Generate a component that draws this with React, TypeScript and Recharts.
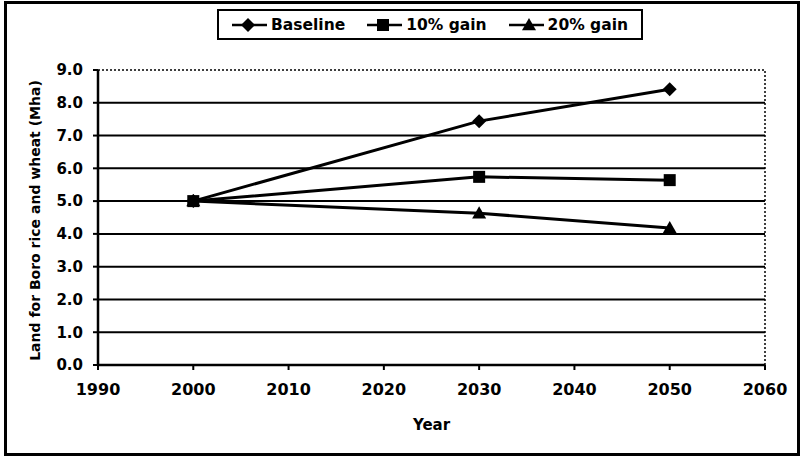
import React from "react";
import { LineChart, Line, XAxis, YAxis, ReferenceLine, Label } from "recharts";

const years = [2000, 2030, 2050];
const baseline = [5.0, 7.44, 8.41];
const gain10 = [5.0, 5.74, 5.64];
const gain20 = [5.0, 4.63, 4.18];
const xTicks = [1990, 2000, 2010, 2020, 2030, 2040, 2050, 2060];
const yTicks = [0, 1, 2, 3, 4, 5, 6, 7, 8, 9];
const gridValues = [1, 2, 3, 4, 5, 6, 7, 8];
const seriesNames = ["Baseline", "10% gain", "20% gain"];

const data = years.map((y, i) => ({ year: y, baseline: baseline[i], gain10: gain10[i], gain20: gain20[i] }));

const FONT = "'DejaVu Sans', Arial, sans-serif";

const Diamond = (props: any) => {
  const { cx, cy } = props;
  if (cx == null || cy == null) return null;
  const r = 7;
  return <path d={`M${cx},${cy - r}L${cx + r},${cy}L${cx},${cy + r}L${cx - r},${cy}Z`} fill="#000" />;
};
const Square = (props: any) => {
  const { cx, cy } = props;
  if (cx == null || cy == null) return null;
  const r = 6;
  return <rect x={cx - r} y={cy - r} width={2 * r} height={2 * r} fill="#000" />;
};
const Triangle = (props: any) => {
  const { cx, cy } = props;
  if (cx == null || cy == null) return null;
  const r = 7;
  return <path d={`M${cx},${cy - r}L${cx + r},${cy + r * 0.75}L${cx - r},${cy + r * 0.75}Z`} fill="#000" />;
};

const LegendMarker = ({ kind }: { kind: number }) => (
  <svg width={35} height={16} style={{ display: "block" }}>
    <line x1={0} y1={8} x2={35} y2={8} stroke="#000" strokeWidth={2.5} />
    {kind === 0 && <Diamond cx={16} cy={8} />}
    {kind === 1 && <Square cx={16} cy={8} />}
    {kind === 2 && <Triangle cx={20} cy={8} />}
  </svg>
);

export default function App() {
  return (
    <div style={{ position: "absolute", left: 0, top: 0, width: 803, height: 456, background: "#fff", fontFamily: FONT }}>
      <div style={{ position: "absolute", left: 4, top: 1, width: 790, height: 449, border: "3px solid #000" }} />
      <div
        style={{
          position: "absolute",
          left: 217,
          top: 9,
          width: 409,
          height: 27,
          border: "2px solid #000",
          display: "flex",
          alignItems: "center",
          paddingLeft: 13,
          boxSizing: "content-box",
          fontWeight: "bold",
          fontSize: 15.5,
          zIndex: 2,
          background: "#fff",
          whiteSpace: "nowrap",
        }}
      >
        {seriesNames.map((n, i) => (
          <span key={n} style={{ display: "flex", alignItems: "center", marginRight: 22 }}>
            <LegendMarker kind={i} />
            <span style={{ marginLeft: 4 }}>{n}</span>
          </span>
        ))}
      </div>
      <LineChart width={803} height={456} data={data} margin={{ top: 70, right: 38, bottom: 31, left: 38 }}>
        <XAxis
          dataKey="year"
          type="number"
          domain={[1990, 2060]}
          ticks={xTicks}
          interval={0}
          axisLine={{ stroke: "#000", strokeWidth: 2.5 }}
          tickLine={{ stroke: "#000", strokeWidth: 2 }}
          tickSize={5}
          tickMargin={14}
          tick={{ fill: "#000", fontSize: 16, fontWeight: "bold", fontFamily: FONT }}
          height={60}
        >
          <Label value="Year" position="insideBottom" offset={-5} style={{ fill: "#000", fontSize: 15, fontWeight: "bold", fontFamily: FONT }} />
        </XAxis>
        <YAxis
          type="number"
          domain={[0, 9]}
          ticks={yTicks}
          interval={0}
          tickFormatter={(v: number) => v.toFixed(1)}
          axisLine={{ stroke: "#000", strokeWidth: 2.5 }}
          tickLine={{ stroke: "#000", strokeWidth: 2 }}
          tickSize={5}
          tickMargin={10}
          tick={{ fill: "#000", fontSize: 15, fontWeight: "bold", fontFamily: FONT }}
          width={60}
        >
          <Label
            value="Land for Boro rice and wheat (Mha)"
            angle={-90}
            position="insideLeft"
            offset={-3}
            dy={3}
            style={{ textAnchor: "middle", fill: "#000", fontSize: 14, fontWeight: "bold", fontFamily: FONT }}
          />
        </YAxis>
        {gridValues.map((v) => (
          <ReferenceLine key={v} y={v} stroke="#000" strokeWidth={2} />
        ))}
        <ReferenceLine y={9} stroke="#000" strokeWidth={1.5} strokeDasharray="2 2" />
        <ReferenceLine x={2060} stroke="#000" strokeWidth={1.5} strokeDasharray="2 2" />
        <Line dataKey="baseline" stroke="#000" strokeWidth={3} dot={<Diamond />} isAnimationActive={false} />
        <Line dataKey="gain10" stroke="#000" strokeWidth={3} dot={<Square />} isAnimationActive={false} />
        <Line dataKey="gain20" stroke="#000" strokeWidth={3} dot={<Triangle />} isAnimationActive={false} />
      </LineChart>
    </div>
  );
}
